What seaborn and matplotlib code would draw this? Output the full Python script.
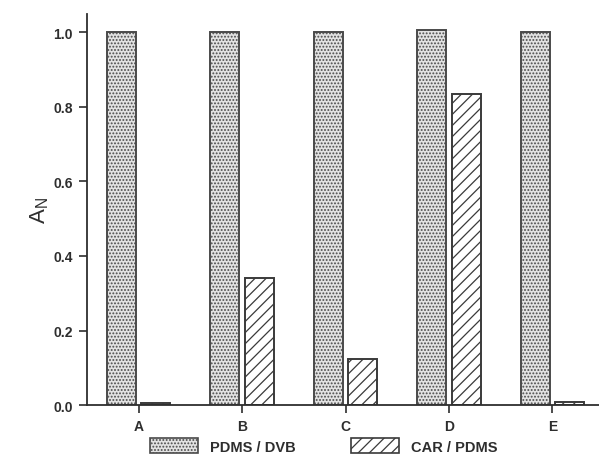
import matplotlib
matplotlib.use("Agg")
import matplotlib.pyplot as plt
import seaborn as sns
import pandas as pd
from matplotlib.patches import Patch

# Normalised response per sample for the two fibre coatings
samples = ["A", "B", "C", "D", "E"]
pdms_dvb = [1.0, 1.0, 1.0, 1.005, 1.0]
car_pdms = [0.005, 0.34, 0.123, 0.834, 0.008]
series = ["PDMS / DVB", "CAR / PDMS"]
y_ticks = [0.0, 0.2, 0.4, 0.6, 0.8, 1.0]

df = pd.DataFrame({
    "sample": samples * 2,
    "coating": [series[0]] * len(samples) + [series[1]] * len(samples),
    "value": pdms_dvb + car_pdms,
})

sns.set_theme(style="ticks")
plt.rcParams["font.family"] = ["Liberation Sans", "DejaVu Sans"]
plt.rcParams["hatch.linewidth"] = 0.9

ink = "#2e2e2e"
fig = plt.figure(figsize=(5.99, 4.60), dpi=100)
ax = fig.add_axes([0.145, 0.117, 0.855, 0.85])

sns.barplot(data=df, x="sample", y="value", hue="coating", order=samples,
            hue_order=series, width=0.667, gap=0.16, ax=ax, legend=False,
            palette=["#e2e2e2", "white"], saturation=1)

styles = [dict(facecolor="#e2e2e2", hatch=".....", edgecolor="#4a4a4a"),
          dict(facecolor="white", hatch="///", edgecolor="#3a3a3a")]
for cont, st in zip(ax.containers, styles):
    for bar in cont:
        bar.set_facecolor(st["facecolor"])
        bar.set_hatch(st["hatch"])
        bar.set_edgecolor(st["edgecolor"])
        bar.set_linewidth(1.4)

ax.set_xlim(-0.5, 4.45)
ax.set_ylim(0, 1.048)
ax.set_yticks(y_ticks)
ax.set_yticklabels([f"{t:.1f}" for t in y_ticks])
ax.set_xlabel("")
ax.set_ylabel(r"$\mathregular{A_N}$", fontsize=16, color=ink, labelpad=2)

for side in ["top", "right"]:
    ax.spines[side].set_visible(False)
for side in ["left", "bottom"]:
    ax.spines[side].set_color(ink)
    ax.spines[side].set_linewidth(1.3)
ax.tick_params(axis="both", direction="out", length=6, width=1.2, color=ink,
               labelcolor=ink, labelsize=10, pad=4)
for lab in ax.get_xticklabels() + ax.get_yticklabels():
    lab.set_fontweight("bold")

handles = [Patch(facecolor=st["facecolor"], hatch=st["hatch"],
                 edgecolor=st["edgecolor"], linewidth=1.2, label=name)
           for st, name in zip(styles, series)]
leg = fig.legend(handles=handles, loc="center", bbox_to_anchor=(0.54, 0.028),
                 ncol=2, frameon=False, prop={"size": 10.5, "weight": "bold"},
                 handlelength=3.3, handleheight=1.2, columnspacing=3.8,
                 handletextpad=0.8)
for t in leg.get_texts():
    t.set_color(ink)

fig.savefig("out.png", dpi=100, facecolor="white")
